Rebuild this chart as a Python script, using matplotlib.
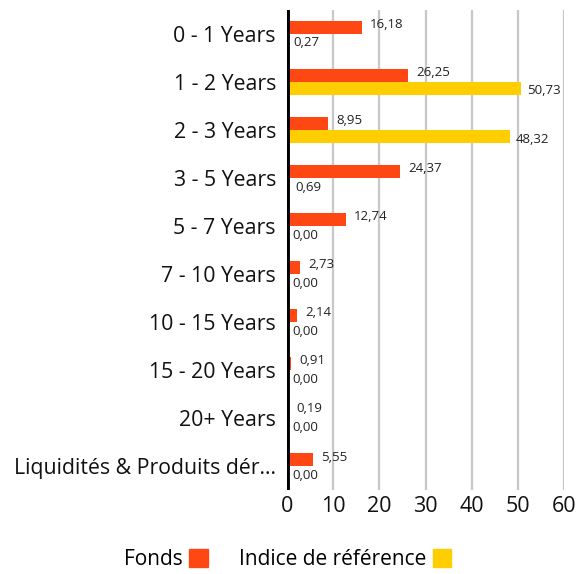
import numpy as np
import matplotlib.pyplot as plt
from matplotlib.patches import Patch

plt.rcParams["font.family"] = ["Open Sans", "DejaVu Sans"]

categories = ["0 - 1 Years", "1 - 2 Years", "2 - 3 Years", "3 - 5 Years",
              "5 - 7 Years", "7 - 10 Years", "10 - 15 Years", "15 - 20 Years",
              "20+ Years", "Liquidités & Produits dér..."]
fonds = [16.18, 26.25, 8.95, 24.37, 12.74, 2.73, 2.14, 0.91, 0.19, 5.55]
indice = [0.27, 50.73, 48.32, 0.69, 0.00, 0.00, 0.00, 0.00, 0.00, 0.00]
ticks = [0, 10, 20, 30, 40, 50, 60]

ORANGE = "#FF4713"
YELLOW = "#FFCE00"

fig = plt.figure(figsize=(5.87, 5.74), dpi=100)
ax = fig.add_axes([0.489, 0.146, 0.472, 0.837])

y = np.arange(len(categories))
h = 0.265
ax.barh(y - h / 2, fonds, height=h, color=ORANGE, zorder=3)
ax.barh(y + h / 2, indice, height=h, color=YELLOW, zorder=3)

fmt = lambda v: f"{v:.2f}".replace(".", ",")
for i in range(len(categories)):
    ax.annotate(fmt(fonds[i]), (fonds[i], y[i] - h / 2), xytext=(6, 2),
                textcoords="offset points", va="center", ha="left",
                fontsize=9.5, color="#222222")
    ax.annotate(fmt(indice[i]), (indice[i], y[i] + h / 2), xytext=(4, -2),
                textcoords="offset points", va="center", ha="left",
                fontsize=9.5, color="#222222")

ax.set_xlim(0, 60)
ax.set_ylim(len(categories) - 0.5, -0.5)
ax.set_xticks(ticks)
ax.set_yticks(y)
ax.set_yticklabels(categories)
ax.tick_params(axis="y", length=0, labelsize=15.3, colors="#111111", pad=8)
ax.tick_params(axis="x", length=0, labelsize=15.5, colors="#111111", pad=4)
ax.grid(axis="x", color="#c8c8c8", lw=1.6, zorder=0)
for s in ax.spines.values():
    s.set_visible(False)
ax.axvline(0, color="black", lw=3.5, zorder=4)

handles = [Patch(color=ORANGE, label="Fonds"),
           Patch(color=YELLOW, label="Indice de référence")]
fig.legend(handles=handles, loc="center", bbox_to_anchor=(0.49, 0.025),
           ncol=2, frameon=False, markerfirst=False, fontsize=15,
           handlelength=0.9, handleheight=0.9, handletextpad=0.3,
           columnspacing=1.5)

fig.savefig("out.png", dpi=100)
